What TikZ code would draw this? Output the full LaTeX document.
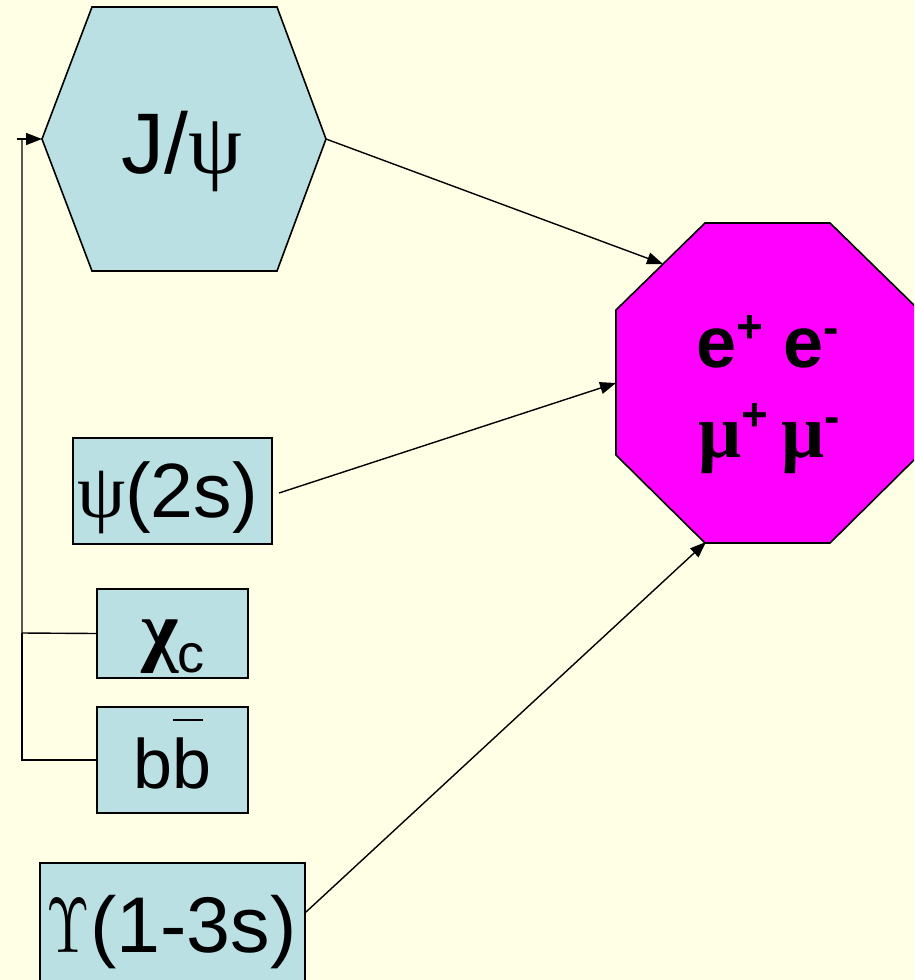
\documentclass[tikz,border=0pt]{standalone}
\usepackage{fontspec}
\setmainfont{Liberation Sans}
\newfontfamily\grk{Liberation Serif}
\usetikzlibrary{arrows.meta}
\definecolor{bg}{RGB}{255,255,229}
\definecolor{boxblue}{RGB}{186,224,227}
\definecolor{mag}{RGB}{255,0,255}
\newcommand{\fs}[1]{\fontsize{#1}{#1}\selectfont}
\begin{document}
\begin{tikzpicture}[x=1pt,y=-1pt,
  shapeline/.style={draw=black,line width=1.6pt,line join=miter},
  box/.style={shapeline,fill=boxblue,inner sep=0pt,rectangle},
  conn/.style={line width=1.4pt},
  arr/.style={conn,-{Triangle[length=16pt,width=12pt]}},
  lbl/.style={anchor=base,inner sep=0pt}]
\fill[bg] (0,0) rectangle (914,980);
\clip (0,0) rectangle (914,980);

% J/psi hexagon
\draw[shapeline,fill=boxblue] (92,7) -- (277,7) -- (326,139) -- (277,271) -- (92,271) -- (42,139) -- cycle;
\coordinate (jL) at (42,139);
\coordinate (jR) at (326,139);
\node[lbl] (jpsi) at (182,173) {\fs{86}J/{\grk ψ}};

% octagon
\draw[shapeline,fill=mag] (705,223) -- (830,223) -- (919,310) -- (919,455) -- (830,543) -- (705,543) -- (616,455) -- (616,310) -- cycle;
\coordinate (oA) at (663,264);
\coordinate (oB) at (616,383);
\coordinate (oC) at (706,542);
\node[lbl] (ee) at (768,367) {\fs{72}\bfseries e\raisebox{25pt}{\fs{46}+} e\raisebox{24pt}{\fs{46}-}};
\node[lbl] (mumu) at (769,457) {\fs{76}{\grk\bfseries μ}\raisebox{27pt}{\fs{46}\bfseries +}\,{\grk\bfseries μ}\raisebox{25pt}{\fs{46}\bfseries -}};

% boxes
\node[box,minimum width=199pt,minimum height=106pt] (psi2s) at (172.5,491) {};
\node[lbl] at (167.5,517) {\fs{77}{\grk ψ}(2s)};
\node[box,minimum width=151pt,minimum height=89pt] (chic) at (172.5,633.5) {};
\node[lbl] at (173,656) {\fs{80}{\grk\bfseries χ}\raisebox{-16pt}{\fs{54}c}};
\node[box,minimum width=151pt,minimum height=106pt] (bb) at (172.5,760) {};
\node[lbl] at (172.5,788) {\fs{70}bb};
\draw[line width=2pt] (173,720) -- (203,720);
\node[box,minimum width=265pt,minimum height=124pt] (ups) at (172.5,925) {};
\node[lbl] at (171.5,952) {\fs{79}\scalebox{5.6}[7.8]{\fontsize{10}{12}\selectfont$\Upsilon$}(1-3s)};

% connectors
\coordinate (j1) at (22,633);
\coordinate (j2) at (22,760);
\coordinate (jt) at (22,139);
\coordinate (jt0) at (17,139);
\draw[conn] (bb.west) -- (j2) -- (j1);
\draw[conn] (chic.west) -- (j1) -- (jt);
\draw[arr] (jt0) -- (jL);

\coordinate (pA) at (279,493);
\coordinate (uA) at (306,912);
\draw[arr] (jR) -- (oA);
\draw[arr] (pA) -- (oB);
\draw[arr] (uA) -- (oC);
\end{tikzpicture}
\end{document}
